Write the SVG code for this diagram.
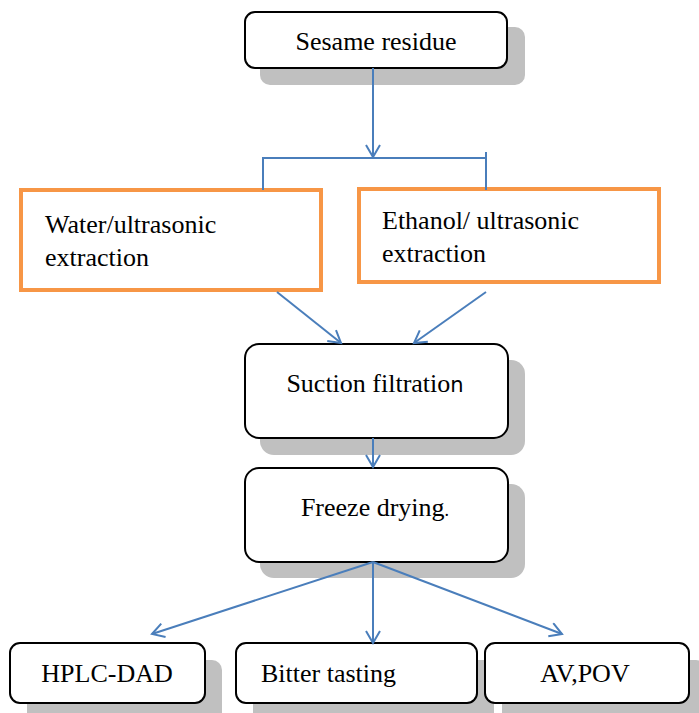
<svg xmlns="http://www.w3.org/2000/svg" width="699" height="713" viewBox="0 0 699 713">
<defs>
<marker id="arr" markerUnits="userSpaceOnUse" markerWidth="16" markerHeight="18" refX="13" refY="8" orient="auto">
<path d="M1,1 L13,8 L1,15" fill="none" stroke="#4a7ebb" stroke-width="2"/>
</marker>
</defs>
<style>
.sh{fill:#c0c0c0}
.bx{fill:#fff;stroke:#000;stroke-width:2}
.ob{fill:#fff;stroke:#f79646;stroke-width:4}
.t{font-size:26px;fill:#000}
.c{stroke:#4a7ebb;stroke-width:2;fill:none}
</style>
<rect width="699" height="713" fill="#fff"/>
<g font-family="Liberation Serif, DejaVu Serif, serif">
<g id="sesame">
<rect class="sh" x="260" y="27" width="265" height="58" rx="10"/>
<rect class="bx" x="245" y="12" width="262" height="56" rx="10"/>
<text class="t" x="376" y="50" text-anchor="middle">Sesame residue</text>
</g>
<g id="water">
<rect class="ob" x="21" y="190" width="300" height="100"/>
<text class="t" x="45" y="233">Water/ultrasonic</text>
<text class="t" x="45" y="266">extraction</text>
</g>
<g id="ethanol">
<rect class="ob" x="359" y="189" width="300" height="93"/>
<text class="t" x="382" y="229">Ethanol/ ultrasonic</text>
<text class="t" x="382" y="262">extraction</text>
</g>
<g id="suction">
<rect class="sh" x="260" y="360" width="265" height="95" rx="14"/>
<rect class="bx" x="245" y="344" width="263" height="94" rx="14"/>
<text class="t" x="375" y="392" text-anchor="middle">Suction filtratio<tspan font-family="DejaVu Sans, sans-serif" font-size="21">n</tspan></text>
</g>
<g id="freeze">
<rect class="sh" x="260" y="484" width="265" height="94" rx="14"/>
<rect class="bx" x="245" y="468" width="263" height="94" rx="14"/>
<text class="t" x="375" y="516" text-anchor="middle">Freeze drying<tspan font-size="18">.</tspan></text>
</g>
<g id="hplc">
<rect class="sh" x="27" y="660" width="195" height="70" rx="10"/>
<rect class="bx" x="10" y="643" width="195" height="60" rx="10"/>
<text class="t" x="107" y="682" text-anchor="middle">HPLC-DAD</text>
</g>
<g id="bitter">
<rect class="sh" x="253" y="660" width="241" height="70" rx="10"/>
<rect class="bx" x="236" y="643" width="241" height="60" rx="10"/>
<text class="t" x="261" y="682">Bitter tasting</text>
</g>
<g id="avpov">
<rect class="sh" x="502" y="660" width="204" height="70" rx="10"/>
<rect class="bx" x="485" y="643" width="204" height="60" rx="10"/>
<text class="t" x="585" y="682" text-anchor="middle">AV,POV</text>
</g>
</g>
<g id="connectors">
<line class="c" x1="373" y1="68" x2="373" y2="157" marker-end="url(#arr)"/>
<polyline class="c" points="263,190 263,158 486,158 486,190"/>
<line class="c" x1="486" y1="152" x2="486" y2="164"/>
<line class="c" x1="277" y1="292" x2="341" y2="343" marker-end="url(#arr)"/>
<line class="c" x1="486" y1="292" x2="414" y2="343" marker-end="url(#arr)"/>
<line class="c" x1="373" y1="438" x2="373" y2="467" marker-end="url(#arr)"/>
<line class="c" x1="373" y1="562" x2="152" y2="634" marker-end="url(#arr)"/>
<line class="c" x1="373" y1="562" x2="373" y2="643" marker-end="url(#arr)"/>
<line class="c" x1="373" y1="562" x2="562" y2="634" marker-end="url(#arr)"/>
</g>
</svg>
